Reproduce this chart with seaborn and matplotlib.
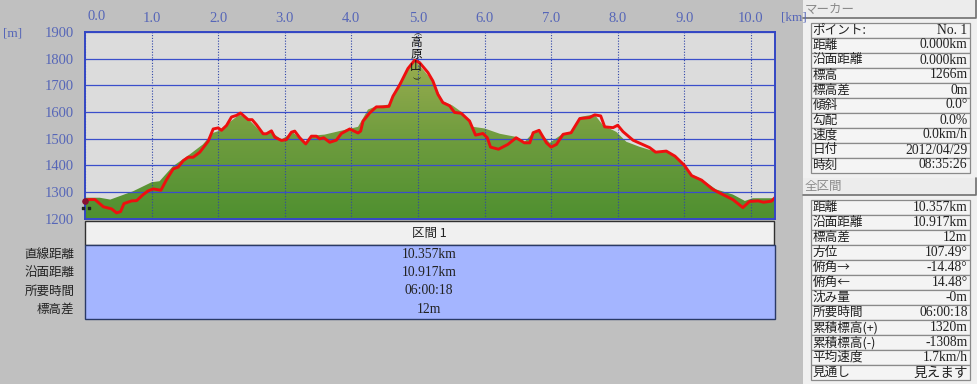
import numpy as np
import pandas as pd
import matplotlib
matplotlib.use("Agg")
import matplotlib.pyplot as plt
from matplotlib.patches import Rectangle
import seaborn as sb

# ---- donnees ----
track_km = [0.0, 0.05, 0.15, 0.275, 0.4, 0.475, 0.535, 0.585, 0.7, 0.775, 0.875, 0.95, 1.025, 1.14, 1.225, 1.325,
            1.4, 1.475, 1.55, 1.625, 1.725, 1.85, 1.925, 2.0, 2.05, 2.125, 2.2, 2.275, 2.335, 2.45, 2.51, 2.575,
            2.675, 2.725, 2.8, 2.85, 2.95, 3.025, 3.1, 3.15, 3.225, 3.315, 3.4, 3.475, 3.525, 3.585, 3.675, 3.775,
            3.85, 3.975, 4.1, 4.14, 4.175, 4.275, 4.375, 4.475, 4.565, 4.625, 4.725, 4.85, 4.95, 5.025, 5.15,
            5.225, 5.3, 5.375, 5.475, 5.55, 5.65, 5.775, 5.865, 5.975, 6.04, 6.09, 6.21, 6.35, 6.475, 6.6, 6.68,
            6.73, 6.82, 6.93, 7.0, 7.08, 7.18, 7.3, 7.43, 7.58, 7.655, 7.745, 7.805, 7.93, 8.0, 8.08, 8.23, 8.48,
            8.57, 8.73, 8.86, 9.0, 9.11, 9.26, 9.43, 9.53, 9.73, 9.88, 9.98, 10.11, 10.19, 10.31, 10.36]
track_m = [1266, 1271, 1271, 1244, 1236, 1221, 1226, 1256, 1266, 1267, 1290, 1304, 1311, 1306, 1346, 1386,
           1393, 1417, 1430, 1430, 1449, 1490, 1536, 1540, 1531, 1549, 1581, 1587, 1596, 1571, 1571, 1552,
           1518, 1518, 1529, 1505, 1493, 1496, 1524, 1528, 1503, 1480, 1509, 1509, 1499, 1503, 1486, 1494,
           1519, 1536, 1521, 1528, 1565, 1596, 1619, 1619, 1621, 1659, 1701, 1763, 1794, 1785, 1748,
           1716, 1666, 1635, 1623, 1598, 1595, 1566, 1513, 1519, 1504, 1468, 1460, 1478, 1503, 1484, 1484,
           1522, 1531, 1484, 1468, 1478, 1516, 1522, 1575, 1579, 1589, 1585, 1544, 1541, 1550, 1526, 1494, 1466,
           1449, 1453, 1434, 1400, 1361, 1344, 1309, 1296, 1271, 1241, 1264, 1266, 1261, 1265, 1278]

terrain_km = [0.0, 0.22, 0.38, 0.72, 1.0, 1.12, 1.32, 1.57, 1.77, 1.92, 2.0, 2.12, 2.32, 2.47, 2.67, 2.8, 2.95,
              3.12, 3.3, 3.42, 3.6, 3.82, 4.1, 4.25, 4.37, 4.57, 4.72, 4.95, 5.22, 5.37, 5.52, 5.67, 5.83, 6.0,
              6.23, 6.48, 6.6, 6.73, 6.82, 6.98, 7.18, 7.3, 7.43, 7.65, 7.78, 7.98, 8.13, 8.33, 8.58, 8.73, 9.0,
              9.11, 9.26, 9.48, 9.73, 9.91, 10.03, 10.36]
terrain_m = [1278, 1278, 1271, 1302, 1336, 1340, 1396, 1440, 1478, 1521, 1528, 1552, 1590, 1569, 1518, 1525, 1496,
             1524, 1484, 1511, 1515, 1528, 1544, 1609, 1621, 1628, 1708, 1797, 1716, 1641, 1624, 1597, 1544, 1538,
             1518, 1506, 1487, 1522, 1528, 1484, 1519, 1525, 1581, 1591, 1550, 1525, 1488, 1469, 1450, 1456, 1402,
             1365, 1347, 1309, 1290, 1266, 1276, 1276]

x_ticks = [0, 1, 2, 3, 4, 5, 6, 7, 8, 9, 10]
y_ticks = [1200, 1300, 1400, 1500, 1600, 1700, 1800, 1900]

section_name = "区間 1"
summary_labels = ["直線距離", "沿面距離", "所要時間", "標高差"]
summary_values = ["10.357km", "10.917km", "06:00:18", "12m"]

marker_labels = ["ポイント:", "距離", "沿面距離", "標高", "標高差", "傾斜", "勾配", "速度", "日付", "時刻"]
marker_values = ["No. 1", "0.000km", "0.000km", "1266m", "0m", "0.0°", "0.0%", "0.0km/h", "2012/04/29", "08:35:26"]
total_labels = ["距離", "沿面距離", "標高差", "方位", "俯角→", "俯角←", "沈み量", "所要時間", "累積標高(+)", "累積標高(-)",
                "平均速度", "見通し"]
total_values = ["10.357km", "10.917km", "12m", "107.49°", "-14.48°", "14.48°", "-0m", "06:00:18", "1320m", "-1308m",
                "1.7km/h", "見えます"]
summit_chars = ["高", "原", "山"]

# ---- style ----
sb.set_theme(style="white")
plt.rcParams['font.family'] = ['Liberation Serif', 'Noto Sans CJK JP', 'DejaVu Sans']
gothic = ['Noto Sans CJK JP', 'DejaVu Sans']
bleu_txt = "#5666b8"
bleu_grille = "#3a4ecb"
fond = "#c0c0c0"

fig = plt.figure(figsize=(9.78, 3.84), dpi=100, facecolor=fond)

# axe "pixels" pour les panneaux autour du graphique
ui = fig.add_axes([0, 0, 1, 1], zorder=0)
ui.set_xlim(0, 978)
ui.set_ylim(384, 0)
ui.axis("off")


def tableau(y_haut, labels, valeurs, h=15.0):
    # tableau du panneau de droite
    for i, (lab, val) in enumerate(zip(labels, valeurs)):
        y = y_haut + i * h
        ui.add_patch(Rectangle((811, y), 159, h, fc="#f4f4f4", ec="#8a8a8a", lw=0.9))
        ui.text(812.5, y + h / 2, lab, family=gothic, fontsize=9.1, color="#222222", va="center", ha="left")
        ui.text(967.5, y + h / 2, val, fontsize=9.8, color="#222222", va="center", ha="right",
                family=gothic if val == "見えます" else None)


def entete(y, h, txt):
    ui.add_patch(Rectangle((803, y), 175, h, fc="#ececec", ec="none"))
    ui.plot([803, 976, 976], [y + h - 0.5, y + h - 0.5, y], color="#707070", lw=1.2)
    ui.text(805, y + h / 2, txt, family=gothic, fontsize=9, color="#8a8a8a", va="center", ha="left")


ui.add_patch(Rectangle((803, 0), 175, 384, fc="#f0f0f0", ec="none"))
entete(0, 18, "マーカー")
entete(178, 17, "全区間")
tableau(22.5, marker_labels, marker_values)
tableau(200, total_labels, total_values)

# bandeau "section" et tableau bleu
ui.add_patch(Rectangle((85, 221), 689, 24, fc="#f0f0f0", ec="#303030", lw=1))
ui.text(429, 233, section_name, family=gothic, fontsize=9, color="#222222", ha="center", va="center")
ui.add_patch(Rectangle((85, 245), 690, 73.5, fc="#a4b5ff", ec="#2a3a66", lw=1))
for i, (lab, val) in enumerate(zip(summary_labels, summary_values)):
    y = 254.5 + i * 18.2
    ui.text(74.5, y, lab, family=gothic, fontsize=9, color="#222222", ha="right", va="center")
    ui.text(429, y, val, fontsize=9.8, color="#222222", ha="center", va="center")

ui.text(3, 34, "[m]", fontsize=9.5, color=bleu_txt, va="center")
ui.text(781, 17, "[km]", fontsize=9.5, color=bleu_txt, va="center")
ui.text(97, 17, "%.1f" % x_ticks[0], fontsize=10.5, color=bleu_txt, va="center", ha="center")

# ---- profil d'altitude ----
ax = fig.add_axes([85 / 978, 1 - 218.5 / 384, 690.5 / 978, 186.5 / 384], zorder=1)
ax.set_facecolor("#dcdcdc")

# remplissage degrade du terrain
poly = ax.fill_between(terrain_km, terrain_m, 1200, color="none", lw=0)
degrade = np.linspace(0, 1, 128).reshape(-1, 1)
cmap = matplotlib.colors.LinearSegmentedColormap.from_list("terrain", ["#4f9030", "#6f9c3e", "#9aad50"])
im = ax.imshow(degrade, extent=[0, 10.37, 1200, 1800], origin="lower", aspect="auto", cmap=cmap, zorder=1)
im.set_clip_path(poly.get_paths()[0], transform=ax.transData)
ax.set_xlim(0, 10.37)
ax.set_ylim(1200, 1900)

ax.set_yticks(y_ticks)
ax.set_yticklabels([str(v) for v in y_ticks])
ax.set_xticks(x_ticks)
ax.set_xticklabels([""] + ["%.1f" % v for v in x_ticks[1:]])
ax.xaxis.tick_top()
ax.tick_params(axis="both", length=0, labelcolor=bleu_txt, labelsize=10.5)
ax.tick_params(axis="x", pad=5)
ax.tick_params(axis="y", pad=8)

# grille au dessus du terrain
ax.grid(True, axis="y", color=bleu_grille, lw=0.9, zorder=2)
ax.grid(True, axis="x", color="#2f45a8", lw=0.8, ls=(0, (1, 1.5)), zorder=2)
ax.set_axisbelow(False)
for s in ax.spines.values():
    s.set_color("#3346c4")
    s.set_linewidth(1.4)
    s.set_zorder(6)

# trace GPS
df = pd.DataFrame({"km": track_km, "m": track_m})
sb.lineplot(data=df, x="km", y="m", ax=ax, color="#ee0f0f", lw=2.1, sort=False, zorder=4,
            errorbar=None, estimator=None)
ax.set_xlabel("")
ax.set_ylabel("")

# nom du sommet, ecrit verticalement entre parentheses
for i, c in enumerate(summit_chars):
    ax.text(416, 42.5 + i * 12.0, c, family=gothic, fontsize=8.4, color="#111111", ha="center", va="center",
            transform=ui.transData, zorder=5)
ax.text(416, 33, "(", fontsize=6.5, color="#111111", ha="center", va="center", rotation=-90,
        transform=ui.transData, zorder=5)
ax.text(416, 77, ")", fontsize=6.5, color="#111111", ha="center", va="center", rotation=-90,
        transform=ui.transData, zorder=5)

# petite icone de depart
ax.scatter([0.0], [1266], s=14, color="#8a1030", marker="o", zorder=7, clip_on=False)
ax.scatter([-0.03, 0.06], [1238, 1238], s=3, color="#222222", marker="s", zorder=7, clip_on=False)

fig.savefig("out.png", dpi=100, facecolor=fond)
